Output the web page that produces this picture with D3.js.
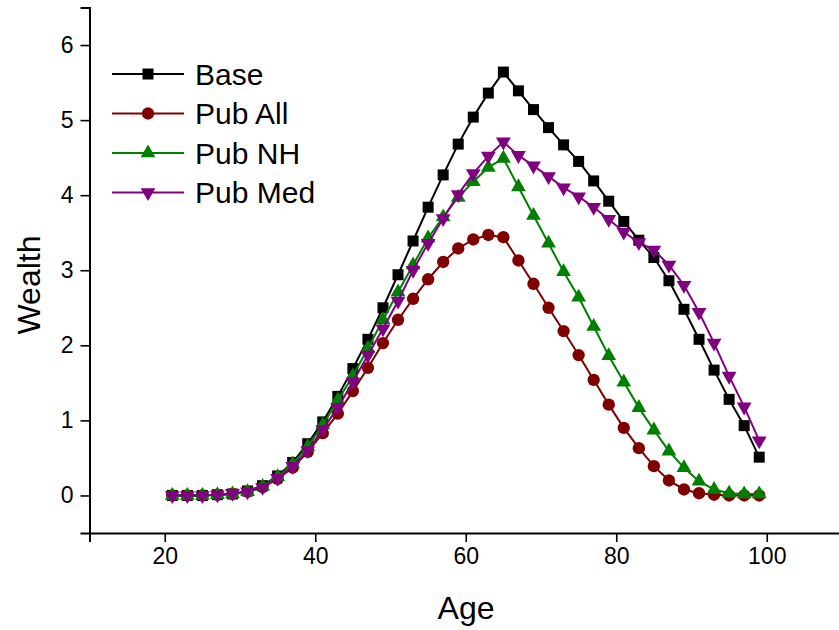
<!DOCTYPE html>
<html>
<head>
<meta charset="utf-8">
<script src="https://cdn.jsdelivr.net/npm/d3@7"></script>
<style>
body { margin: 0; background: #fff; }
text { font-family: Arial, "Liberation Sans", sans-serif; }
</style>
</head>
<body>
<div class="container"></div>
<script>
// ages 21..99, every second year
var ages = [21,23,25,27,29,31,33,35,37,39,41,43,45,47,49,51,53,55,57,59,61,63,65,
            67,69,71,73,75,77,79,81,83,85,87,89,91,93,95,97,99];
var base   = [0,0,0,0.01,0.02,0.06,0.13,0.26,0.44,0.69,0.98,
              1.32,1.69,2.08,2.50,2.94,3.39,3.84,4.27,4.68,5.04,5.36,5.64,
              5.39,5.14,4.90,4.67,4.45,4.19,3.92,3.65,3.40,3.17,2.86,2.48,2.08,1.67,1.28,0.93,0.51];
var pubAll = [0,0,0,0.01,0.02,0.05,0.11,0.22,0.37,0.58,0.83,
              1.09,1.39,1.70,2.03,2.34,2.62,2.88,3.11,3.29,3.41,3.47,3.44,
              3.13,2.82,2.50,2.19,1.87,1.54,1.21,0.90,0.63,0.39,0.20,0.08,0.03,0.01,0,0,0];
var pubNH  = [0,0,0,0.01,0.02,0.05,0.12,0.25,0.42,0.65,0.94,
              1.27,1.59,1.96,2.34,2.71,3.07,3.43,3.71,3.97,4.18,4.37,4.49,
              4.11,3.73,3.36,2.98,2.64,2.25,1.86,1.51,1.17,0.87,0.59,0.37,0.19,0.08,0.03,0.02,0.02];
var pubMed = [0,0,0,0.01,0.03,0.05,0.11,0.23,0.39,0.60,0.88,
              1.17,1.51,1.87,2.22,2.59,3.00,3.36,3.69,4.01,4.29,4.52,4.71,
              4.53,4.39,4.25,4.10,3.98,3.84,3.68,3.51,3.37,3.27,3.07,2.80,2.44,2.03,1.59,1.18,0.73];
var seriesNames = ["Base","Pub All","Pub NH","Pub Med"];
var xTicks = [20,40,60,80,100];
var yTicks = [0,1,2,3,4,5,6];

var W = 839, H = 630;
var svg = d3.select('.container').append('svg').attr("width",W).attr("height",H);

var x = d3.scaleLinear().domain([10,110]).range([89.5,842]);
var y = d3.scaleLinear().domain([-0.5,6.5]).range([533,7.5]);

var series = [
  {name: seriesNames[0], vals: base,   color: "#000000", sym: d3.symbolSquare,   size: 121, rot: 0},
  {name: seriesNames[1], vals: pubAll, color: "#800000", sym: d3.symbolCircle,   size: 120, rot: 0},
  {name: seriesNames[2], vals: pubNH,  color: "#008000", sym: d3.symbolTriangle, size: 95,  rot: 0},
  {name: seriesNames[3], vals: pubMed, color: "#800080", sym: d3.symbolTriangle, size: 95,  rot: 180}
];

// axes
var xMinor = d3.range(10,111,20);
var yMinor = d3.range(-0.5,6.6,1);

var gx = svg.append("g").attr("transform","translate(0,"+y(-0.5)+")");
gx.call(d3.axisBottom(x).tickValues(xMinor).tickSize(5).tickFormat(""));
gx.call(d3.axisBottom(x).tickValues(xTicks).tickSize(9).tickPadding(6).tickFormat(d3.format("d")));
var gy = svg.append("g").attr("transform","translate("+x(10)+",0)");
gy.call(d3.axisLeft(y).tickValues(yMinor).tickSize(6).tickFormat(""));
gy.call(d3.axisLeft(y).tickValues(yTicks).tickSize(9).tickPadding(7).tickFormat(d3.format("d")));

svg.selectAll(".domain").attr("stroke","#000").attr("stroke-width",2);
svg.selectAll(".tick line").attr("stroke","#000").attr("stroke-width",1.6);
svg.selectAll(".tick text").attr("font-size",23).attr("fill","#000")
   .style("font-family","Arial, 'Liberation Sans', sans-serif");

svg.append("text").attr("x",466).attr("y",619).attr("text-anchor","middle")
   .attr("font-size",32).text("Age");
svg.append("text").attr("transform","translate(40,285) rotate(-90)").attr("text-anchor","middle")
   .attr("font-size",32).text("Wealth");

// series
var line = d3.line().x(function(d,i){ return x(ages[i]); }).y(function(d){ return y(d); });

series.forEach(function(s){
  var g = svg.append("g");
  g.append("path").datum(s.vals).attr("d",line)
   .attr("fill","none").attr("stroke",s.color).attr("stroke-width",2);
  g.selectAll("path.mk").data(s.vals).enter().append("path").attr("class","mk")
   .attr("d", d3.symbol().type(s.sym).size(s.size))
   .attr("fill",s.color)
   .attr("transform",function(d,i){ return "translate("+x(ages[i])+","+y(d)+") rotate("+s.rot+")"; });
});

// legend
var lg = svg.append("g");
series.forEach(function(s,i){
  var ly = 74 + i*39.5;
  lg.append("line").attr("x1",112).attr("x2",184).attr("y1",ly).attr("y2",ly)
    .attr("stroke",s.color).attr("stroke-width",2);
  lg.append("path").attr("d", d3.symbol().type(s.sym).size(s.size))
    .attr("fill",s.color).attr("transform","translate(148,"+ly+") rotate("+s.rot+")");
  lg.append("text").attr("x",195).attr("y",ly+10.5).attr("font-size",30).text(s.name);
});
</script>
</body>
</html>
